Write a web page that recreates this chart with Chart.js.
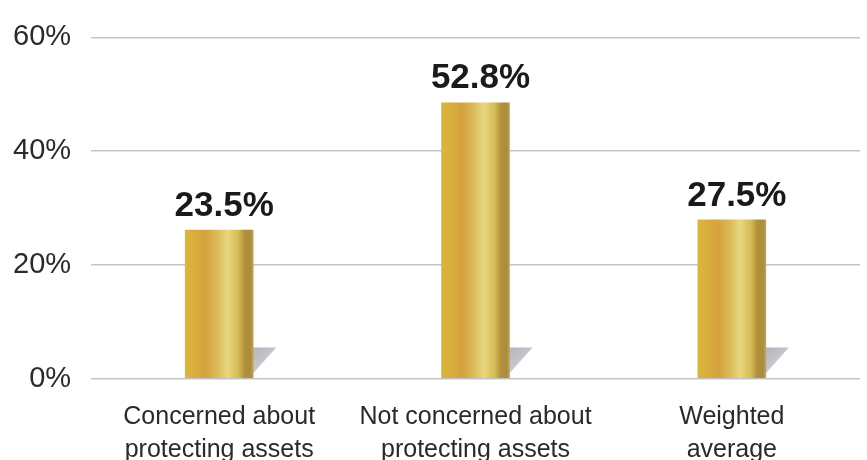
<!DOCTYPE html>
<html>
<head>
<meta charset="utf-8">
<script src="https://cdn.jsdelivr.net/npm/chart.js@4.4.0/dist/chart.umd.min.js"></script>
<style>
  html, body { margin: 0; padding: 0; background: #ffffff; overflow: hidden; }
  #wrap { width: 867px; height: 481px; position: relative; }
</style>
</head>
<body>
<div id="wrap"><canvas id="grafico"></canvas></div>
<script>
const categorias = [
  ['Concerned about', 'protecting assets'],
  ['Not concerned about', 'protecting assets'],
  ['Weighted', 'average']
];
// bar heights as drawn in the picture
const valores = [26.1, 48.5, 27.9];
// value labels as printed above the bars
const rotulos = ['23.5%', '52.8%', '27.5%'];
const ticksY = [0, 20, 40, 60];

const LARGURA = 68;

function gradienteOuro(ctx, x) {
  const g = ctx.createLinearGradient(x - LARGURA / 2, 0, x + LARGURA / 2, 0);
  g.addColorStop(0, '#d9b640');
  g.addColorStop(0.15, '#d8ad3c');
  g.addColorStop(0.3, '#d5a23e');
  g.addColorStop(0.46, '#dbb855');
  g.addColorStop(0.62, '#e8d780');
  g.addColorStop(0.78, '#d6bb58');
  g.addColorStop(0.87, '#b39238');
  g.addColorStop(0.96, '#a98c42');
  g.addColorStop(1, '#c2a650');
  return g;
}

const sombra = {
  id: 'sombra',
  beforeDatasetsDraw(chart) {
    const ctx = chart.ctx;
    const base = chart.scales.y.getPixelForValue(0);
    chart.getDatasetMeta(0).data.forEach(el => {
      // gold gradient per bar
      if (el.options && isFinite(el.x)) {
        el.options.backgroundColor = gradienteOuro(ctx, el.x);
      }
      const dir = el.x + el.width / 2;
      const g = ctx.createLinearGradient(dir, base - 30, dir + 22, base);
      g.addColorStop(0, '#b4b6bd');
      g.addColorStop(1, '#dcdde1');
      ctx.save();
      ctx.fillStyle = g;
      ctx.beginPath();
      ctx.moveTo(dir - 2, base - 31);
      ctx.lineTo(dir + 23, base - 31);
      ctx.lineTo(dir - 2, base - 3);
      ctx.closePath();
      ctx.fill();
      ctx.restore();
    });
  },
  afterDatasetsDraw(chart) {
    const ctx = chart.ctx;
    ctx.save();
    ctx.font = 'bold 35px "Liberation Sans", Arial, sans-serif';
    ctx.fillStyle = '#1a1a1a';
    ctx.textAlign = 'center';
    ctx.textBaseline = 'middle';
    chart.getDatasetMeta(0).data.forEach((el, i) => {
      ctx.fillText(rotulos[i], el.x + 5, el.y - 24);
    });
    ctx.restore();
  }
};

const ctx = document.getElementById('grafico').getContext('2d');

new Chart(ctx, {
  type: 'bar',
  data: {
    labels: categorias,
    datasets: [{
      data: valores,
      barThickness: LARGURA,
      borderWidth: 0,
      borderSkipped: false,
      backgroundColor: c => '#d9b24a'
    }]
  },
  options: {
    responsive: true,
    maintainAspectRatio: false,
    animation: false,
    layout: {
      padding: { left: -7, right: 7, top: 21, bottom: 0 }
    },
    plugins: {
      legend: { display: false },
      tooltip: { enabled: false }
    },
    scales: {
      x: {
        grid: { display: false },
        border: { display: false },
        ticks: {
          color: '#2a2a2a',
          padding: 14,
          maxRotation: 0,
          autoSkip: false,
          font: { size: 25, family: '"Liberation Sans", Arial, sans-serif', lineHeight: 1.33 }
        }
      },
      y: {
        min: 0,
        max: 60,
        afterBuildTicks: scale => { scale.ticks = ticksY.map(v => ({ value: v })); },
        border: { display: false },
        grid: {
          color: '#c4c4c4',
          lineWidth: 1.5,
          drawTicks: false
        },
        ticks: {
          color: '#2a2a2a',
          padding: 20,
          callback: v => v + '%',
          font: { size: 29, family: '"Liberation Sans", Arial, sans-serif' }
        }
      }
    }
  },
  plugins: [sombra]
});
</script>
</body>
</html>
